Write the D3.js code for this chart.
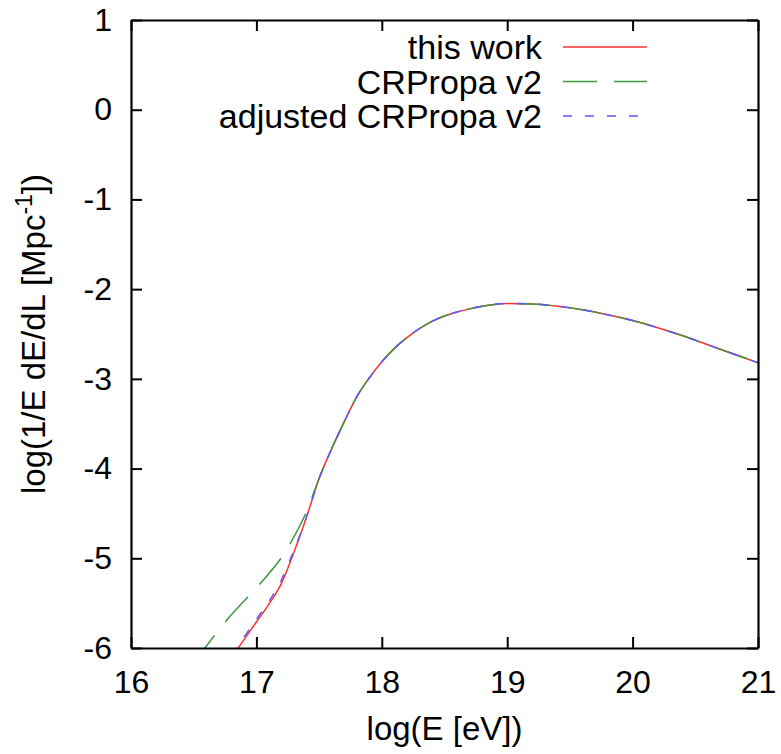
<!DOCTYPE html>
<html>
<head>
<meta charset="utf-8">
<script src="https://cdn.jsdelivr.net/npm/d3@7"></script>
<style>
body { margin: 0; background: #fff; }
text { font-family: "Liberation Sans", Arial, sans-serif; }
</style>
</head>
<body>
<div id="chart"></div>
<script>
// data
var logE = [16.5, 16.6, 16.7, 16.8, 16.9, 17.0, 17.1, 17.2, 17.3, 17.4, 17.5, 17.6, 17.7, 17.8, 17.9,
            18.0, 18.1, 18.2, 18.3, 18.4, 18.5, 18.6, 18.7, 18.8, 18.9, 19.0,
            19.2, 19.4, 19.6, 19.8, 20.0, 20.2, 20.4, 20.6, 20.8, 21.0];
var thisWork = [null, null, -6.31, -6.11, -5.91, -5.71, -5.51, -5.28, -4.93, -4.54, -4.11, -3.78, -3.48, -3.20, -2.99,
                -2.81, -2.66, -2.54, -2.44, -2.36, -2.30, -2.255, -2.22, -2.19, -2.17, -2.16,
                -2.165, -2.19, -2.23, -2.285, -2.35, -2.43, -2.52, -2.62, -2.72, -2.82];
var crpropaV2 = [-6.16, -5.98, -5.80, -5.63, -5.48, -5.33, -5.17, -4.99, -4.76, -4.48, -4.11, -3.78, -3.48, -3.20, -2.99,
                 -2.81, -2.66, -2.54, -2.44, -2.36, -2.30, -2.255, -2.22, -2.19, -2.17, -2.16,
                 -2.165, -2.19, -2.23, -2.285, -2.35, -2.43, -2.52, -2.62, -2.72, -2.82];
var adjustedV2 = [null, null, -6.28, -6.08, -5.88, -5.68, -5.48, -5.24, -4.91, -4.54, -4.11, -3.78, -3.48, -3.20, -2.99,
                  -2.81, -2.66, -2.54, -2.44, -2.36, -2.30, -2.255, -2.22, -2.19, -2.17, -2.16,
                  -2.165, -2.19, -2.23, -2.285, -2.35, -2.43, -2.52, -2.62, -2.72, -2.82];
var seriesNames = ["this work", "CRPropa v2", "adjusted CRPropa v2"];
var xTicks = [16, 17, 18, 19, 20, 21];
var yTicks = [1, 0, -1, -2, -3, -4, -5, -6];

function spectrumPlot(){
    var margin = {top: 20, right: 23, bottom: 106, left: 131};
    var width = 781 - margin.left - margin.right;
    var height = 754 - margin.top - margin.bottom;

    var x = d3.scaleLinear().domain([16, 21]).range([0, width]);
    var y = d3.scaleLinear().domain([-6, 1]).range([height, 0]);

    var svg = d3.select("#chart")
            .append("svg")
            .attr("width", width + margin.left + margin.right)
            .attr("height", height + margin.top + margin.bottom)
            .append("g")
            .attr("transform", "translate(" + margin.left + "," + margin.top + ")");

    svg.append("clipPath").attr("id", "plotclip")
        .append("rect").attr("width", width).attr("height", height);

    // curves
    var styles = [
        {values: thisWork, color: "#ff3030", dash: null},
        {values: crpropaV2, color: "#3f963f", dash: "34,17"},
        {values: adjustedV2, color: "#5a5aff", dash: "9,13"}
    ];

    styles.forEach(function(s){
        var pts = logE.map(function(e, i){ return [e, s.values[i]]; });
        var line = d3.line()
            .defined(function(d){ return d[1] !== null; })
            .x(function(d){ return x(d[0]); })
            .y(function(d){ return y(d[1]); })
            .curve(d3.curveMonotoneX);
        svg.append("path")
            .datum(pts)
            .attr("clip-path", "url(#plotclip)")
            .attr("fill", "none")
            .attr("stroke", s.color)
            .attr("stroke-width", 1.5)
            .attr("stroke-dasharray", s.dash)
            .attr("d", line);
    });

    // axes, ticks pointing inward on all four sides
    var plain = function(d){ return String(d); };
    var bottom = svg.append("g")
        .attr("transform", "translate(0," + height + ")")
        .call(d3.axisBottom(x).tickValues(xTicks).tickSize(-11).tickSizeOuter(0).tickPadding(22).tickFormat(plain));
    var left = svg.append("g")
        .call(d3.axisLeft(y).tickValues(yTicks).tickSize(-11).tickSizeOuter(0).tickPadding(19).tickFormat(plain));
    var top = svg.append("g")
        .call(d3.axisTop(x).tickValues(xTicks).tickSize(-11).tickSizeOuter(0).tickFormat(""));
    var right = svg.append("g")
        .attr("transform", "translate(" + width + ",0)")
        .call(d3.axisRight(y).tickValues(yTicks).tickSize(-11).tickSizeOuter(0).tickFormat(""));

    [bottom, left, top, right].forEach(function(a){
        a.select(".domain").attr("stroke", "#000").attr("stroke-width", 2.2);
        a.selectAll(".tick line").attr("stroke", "#000").attr("stroke-width", 2);
        a.selectAll(".tick text")
            .attr("fill", "#000")
            .style("font-family", "'Liberation Sans', Arial, sans-serif")
            .style("font-size", "32px");
    });

    // axis titles
    svg.append("text")
        .attr("x", width / 2)
        .attr("y", height + 92)
        .attr("text-anchor", "middle")
        .style("font-size", "33px")
        .text("log(E [eV])");

    var yl = svg.append("text")
        .attr("transform", "translate(" + (45 - margin.left) + "," + (height / 2) + ") rotate(-90)")
        .attr("text-anchor", "middle")
        .style("font-size", "33px");
    yl.append("tspan").text("log(1/E dE/dL [Mpc");
    yl.append("tspan").attr("dy", -13).style("font-size", "23px").text("-1");
    yl.append("tspan").attr("dy", 13).text("])");

    // legend
    var legend = svg.selectAll(".legend")
        .data(seriesNames)
        .enter().append("g")
        .attr("class", "legend")
        .attr("transform", function(d, i){ return "translate(0," + (27 + i * 34.5) + ")"; });

    legend.append("text")
        .attr("x", 411)
        .attr("y", 12)
        .attr("text-anchor", "end")
        .style("font-size", "34px")
        .text(function(d){ return d; });

    legend.append("line")
        .attr("x1", 432).attr("x2", 516)
        .attr("y1", 0).attr("y2", 0)
        .attr("stroke", function(d, i){ return styles[i].color; })
        .attr("stroke-width", 1.5)
        .attr("stroke-dasharray", function(d, i){ return styles[i].dash; });
}

spectrumPlot();
</script>
</body>
</html>
